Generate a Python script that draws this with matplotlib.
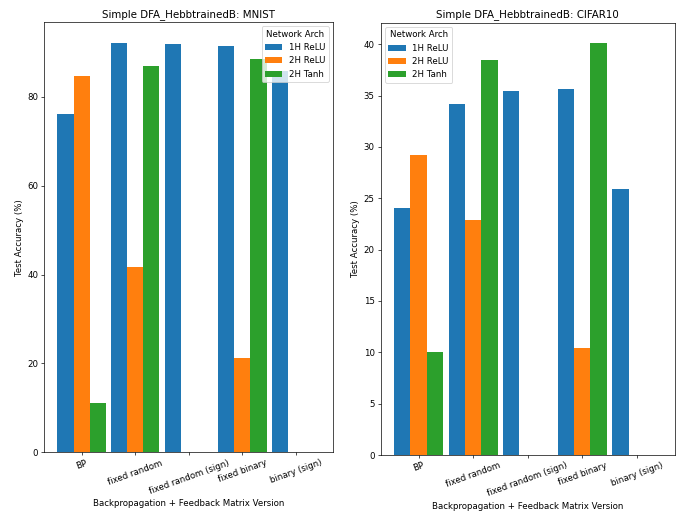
import numpy as np
import matplotlib
matplotlib.use("Agg")
import matplotlib.pyplot as plt

versions = ["BP", "fixed random", "fixed random (sign)", "fixed binary", "binary (sign)"]
archs = ["1H ReLU", "2H ReLU", "2H Tanh"]

# test accuracy (%), 0 = not run
mnist_1h_relu = [76.1, 92.2, 91.8, 91.5, 85.9]
mnist_2h_relu = [84.6, 41.7, 0, 21.3, 0]
mnist_2h_tanh = [11.2, 86.9, 0, 88.5, 0]

cifar_1h_relu = [24.1, 34.15, 35.45, 35.6, 25.95]
cifar_2h_relu = [29.2, 22.9, 0, 10.45, 0]
cifar_2h_tanh = [10.05, 38.45, 0, 40.1, 0]

colors = ["#1f77b4", "#ff7f0e", "#2ca02c"]

dpi = 61.8
fig = plt.figure(figsize=(687 / dpi, 518 / dpi), dpi=dpi)
ax1 = fig.add_axes([0.0645, 0.1268, 0.4207, 0.8307])
ax2 = fig.add_axes([0.5541, 0.1216, 0.4279, 0.8346])


def draw(ax, series, title, loc):
    x = np.arange(len(versions))
    w = 0.3
    for i, (vals, name) in enumerate(zip(series, archs)):
        ax.bar(x + (i - 1) * w, vals, w, color=colors[i], label=name)
    ax.set_xticks(x)
    ax.set_xticklabels(versions, rotation=20, ha="center")
    ax.set_title(title)
    ax.set_xlabel("Backpropagation + Feedback Matrix Version")
    ax.set_ylabel("Test Accuracy (%)")
    ax.legend(title="Network Arch", loc=loc)


draw(ax1, [mnist_1h_relu, mnist_2h_relu, mnist_2h_tanh],
     "Simple DFA_HebbtrainedB: MNIST", "upper right")
draw(ax2, [cifar_1h_relu, cifar_2h_relu, cifar_2h_tanh],
     "Simple DFA_HebbtrainedB: CIFAR10", "upper left")

fig.savefig("out.png", dpi=dpi)
